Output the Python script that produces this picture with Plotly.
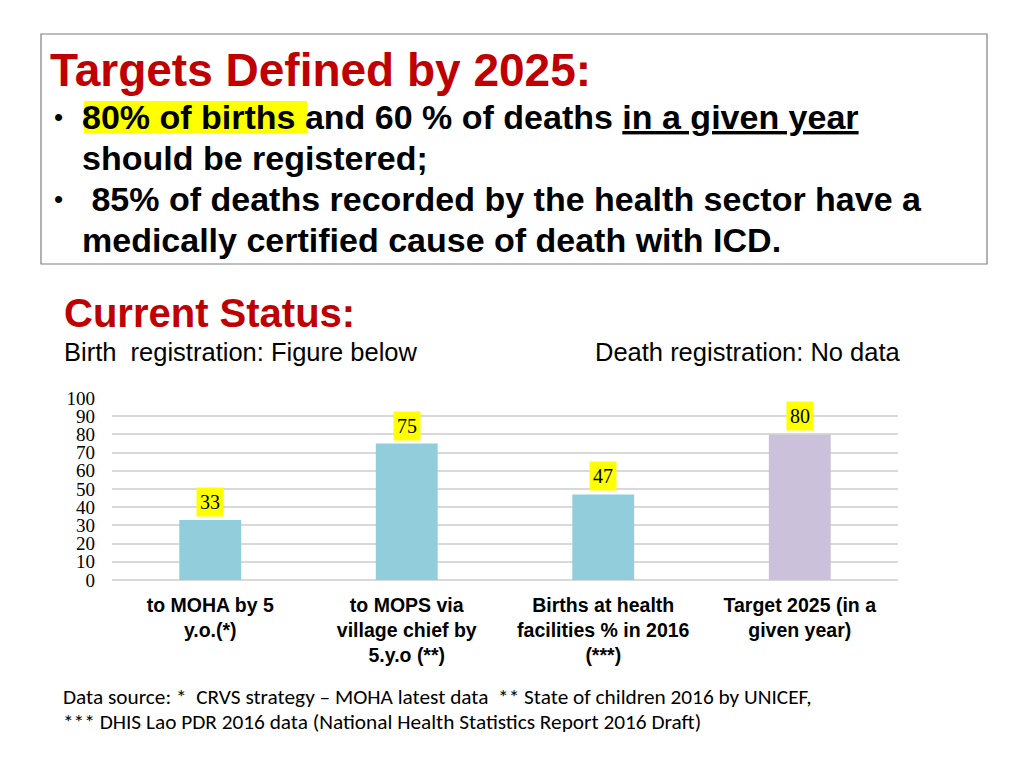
import plotly.graph_objects as go

# ---- data ----
categories = ["to MOHA by 5<br>y.o.(*)",
              "to MOPS via<br>village chief by<br>5.y.o (**)",
              "Births at health<br>facilities % in 2016<br>(***)",
              "Target 2025 (in a<br>given year)"]
values = [33, 75, 47, 80]
bar_colors = ["#92CDDC", "#92CDDC", "#92CDDC", "#CCC1DA"]
y_ticks = [0, 10, 20, 30, 40, 50, 60, 70, 80, 90, 100]

W, H = 1024, 768
L, R, T, B = 112, 898, 398, 580   # plot area in pixels

def px(x):
    return (x - L) / (R - L)

def py(y):
    return (B - y) / (B - T)

SANS = "Liberation Sans, Arial, sans-serif"
SERIF = "Liberation Serif, Times New Roman, serif"
FOOT = "Carlito, Calibri, Lato, Open Sans, sans-serif"

fig = go.Figure()
fig.add_trace(go.Bar(x=list(range(len(categories))), y=values,
                     marker=dict(color=bar_colors, line=dict(width=0)),
                     hoverinfo="skip"))

# value labels with yellow background
for i, v in enumerate(values):
    fig.add_annotation(x=i, y=v, xref="x", yref="y", text=str(v),
                       showarrow=False, yanchor="bottom", yshift=3,
                       bgcolor="#FFFF00", borderpad=3,
                       font=dict(family=SERIF, size=20, color="black"))

def txt(x, y, s, size, color="black", family=SANS):
    fig.add_annotation(x=px(x), y=py(y), xref="paper", yref="paper",
                       text=s, showarrow=False, xanchor="left", yanchor="middle",
                       align="left", font=dict(family=family, size=size, color=color))

# top box
fig.add_shape(type="rect", xref="paper", yref="paper",
              x0=px(41), x1=px(987), y0=py(34), y1=py(264),
              line=dict(color="#7f7f7f", width=1.2), fillcolor="white", layer="below")
# yellow highlight
fig.add_shape(type="rect", xref="paper", yref="paper",
              x0=px(84), x1=px(307), y0=py(101), y1=py(133),
              line=dict(width=0), fillcolor="#FFFF00", layer="below")

txt(48, 70, "<b>Targets Defined by 2025:</b>", 46, "#C00000")
txt(52, 117, "•", 26)
txt(80, 117, "<b>80% of births and 60 % of deaths <u>in a given year</u></b>", 34)
txt(80, 158, "<b>should be registered;</b>", 34)
txt(52, 199, "•", 26)
txt(80, 199, "<b> 85% of deaths recorded by the health sector have a</b>", 34)
txt(80, 240, "<b>medically certified cause of death with ICD.</b>", 34)

txt(62, 313, "<b>Current Status:</b>", 40, "#C00000")
txt(62, 352, "Birth  registration: Figure below", 25.5)
txt(593, 352, "Death registration: No data", 25.5)

txt(61, 697, "Data source: *  CRVS strategy – MOHA latest data  ** State of children 2016 by UNICEF,", 21.3, family=FOOT)
txt(61, 722, "*** DHIS Lao PDR 2016 data (National Health Statistics Report 2016 Draft)", 21.3, family=FOOT)

fig.update_layout(
    width=W, height=H,
    margin=dict(l=L, r=W - R, t=T, b=H - B, pad=0),
    paper_bgcolor="white", plot_bgcolor="white",
    showlegend=False, bargap=0.685,
    xaxis=dict(tickmode="array", tickvals=list(range(len(categories))),
               ticktext=["<b>" + c + "</b>" for c in categories],
               range=[-0.5, len(categories) - 0.5], showgrid=False,
               showline=False, zeroline=False, ticks="",
               tickfont=dict(family=SANS, size=19.5, color="black"),
               ticklabelstandoff=11),
    yaxis=dict(tickmode="array", tickvals=y_ticks, range=[0, 100],
               showgrid=True, gridcolor="#d9d9d9", gridwidth=1.5,
               zeroline=True, zerolinecolor="#d9d9d9", zerolinewidth=1.5,
               showline=False, ticks="",
               tickfont=dict(family=SERIF, size=19, color="black"),
               ticklabelstandoff=16),
)

fig.write_html("out.html", config={"displayModeBar": False},
               post_script="document.body.style.margin='0';")
